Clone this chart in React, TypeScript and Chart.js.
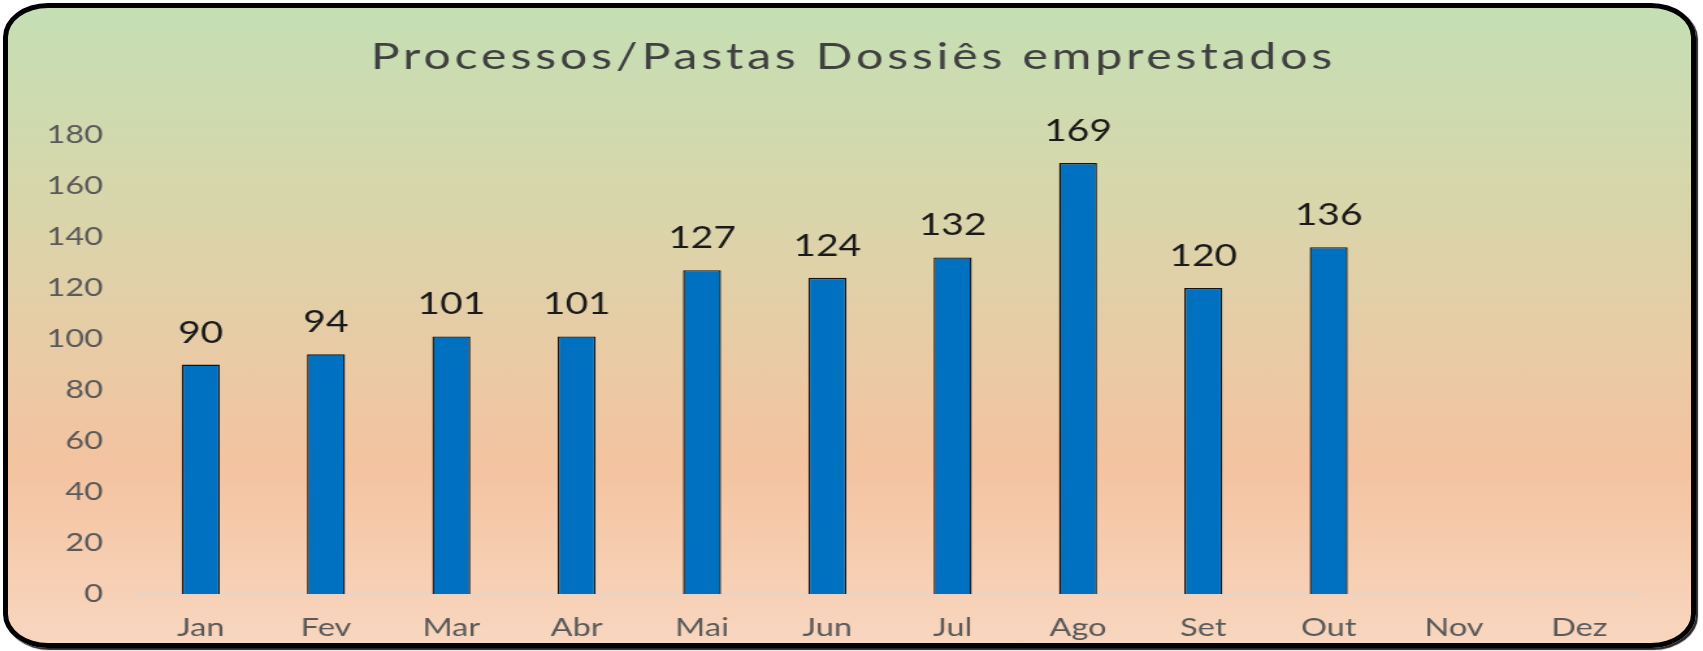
import React, { useEffect, useRef } from "react";
import { Chart, registerables } from "chart.js";

Chart.register(...registerables);

const TITLE = "Processos/Pastas Dossiês emprestados";
const MONTHS = ["Jan", "Fev", "Mar", "Abr", "Mai", "Jun", "Jul", "Ago", "Set", "Out", "Nov", "Dez"];
const VALUES: (number | null)[] = [90, 94, 101, 101, 127, 124, 132, 169, 120, 136, null, null];
const Y_MIN = 0;
const Y_MAX = 180;
const Y_STEP = 20;

// Geometry (page pixels)
const W = 1703;
const H = 651;
const SX = 1.3; // horizontal stretch of the original picture
const IW = Math.round(W / SX);
const PLOT_LEFT = 138;
const PLOT_RIGHT = 1642;
const PLOT_TOP = 135;
const PLOT_BOTTOM = 594;
const FONT = "Lato, 'Open Sans', sans-serif";

const titlePlugin = {
  id: "drawTitle",
  afterDraw(chart: any) {
    const ctx = chart.ctx as CanvasRenderingContext2D;
    ctx.save();
    ctx.font = `37px ${FONT}`;
    ctx.fillStyle = "#404040";
    ctx.textAlign = "center";
    ctx.textBaseline = "alphabetic";
    try {
      (ctx as any).letterSpacing = "3px";
    } catch (e) {}
    ctx.fillText(TITLE, chart.width / 2 + 1.5, 69);
    ctx.restore();
  },
};

const valueLabelPlugin = {
  id: "valueLabels",
  afterDatasetsDraw(chart: any) {
    const ctx = chart.ctx as CanvasRenderingContext2D;
    const meta = chart.getDatasetMeta(0);
    ctx.save();
    ctx.font = `30px ${FONT}`;
    ctx.fillStyle = "#1a1a1a";
    ctx.textAlign = "center";
    ctx.textBaseline = "alphabetic";
    meta.data.forEach((el: any, i: number) => {
      const v = VALUES[i];
      if (v === null || v === undefined) return;
      ctx.fillText(String(v), el.x, el.y - 22);
    });
    ctx.restore();
  },
};

export default function App() {
  const canvasRef = useRef<HTMLCanvasElement | null>(null);

  useEffect(() => {
    const canvas = canvasRef.current;
    if (!canvas) return;
    canvas.width = IW;
    canvas.height = H;
    const catWidth = (PLOT_RIGHT - PLOT_LEFT) / MONTHS.length;
    const chart = new Chart(canvas, {
      type: "bar",
      data: {
        labels: MONTHS,
        datasets: [
          {
            data: VALUES,
            backgroundColor: "#0070C0",
            borderColor: "#141414",
            borderWidth: 1.4,
            barPercentage: 38 / catWidth,
            categoryPercentage: 1,
          },
        ],
      },
      options: {
        responsive: false,
        animation: false,
        devicePixelRatio: 1,
        layout: {
          padding: {
            left: 0,
            right: IW - PLOT_RIGHT / SX,
            top: PLOT_TOP,
            bottom: 0,
          },
        },
        plugins: {
          legend: { display: false },
          title: { display: false },
          tooltip: { enabled: false },
        },
        scales: {
          x: {
            grid: { display: false, drawTicks: false },
            border: { display: true, color: "#d3d8dc", width: 1.5 },
            ticks: {
              color: "#595959",
              font: { family: FONT, size: 25 },
              padding: 19,
              maxRotation: 0,
              autoSkip: false,
            },
            afterFit(scale: any) {
              scale.height = H - PLOT_BOTTOM;
            },
          },
          y: {
            min: Y_MIN,
            max: Y_MAX,
            grid: { display: false, drawTicks: false },
            border: { display: false },
            ticks: {
              stepSize: Y_STEP,
              color: "#595959",
              font: { family: FONT, size: 25 },
              padding: (PLOT_LEFT - 103) / SX,
            },
            afterFit(scale: any) {
              scale.width = PLOT_LEFT / SX;
            },
          },
        },
      },
      plugins: [titlePlugin, valueLabelPlugin],
    });
    return () => chart.destroy();
  }, []);

  return (
    <div
      style={{
        position: "fixed",
        left: 0,
        top: 0,
        width: W,
        height: H,
        overflow: "hidden",
        background: "#ffffff",
      }}
    >
      <div
        style={{
          position: "absolute",
          left: 3,
          top: 3,
          width: 1693,
          height: 645,
          boxSizing: "border-box",
          border: "5px solid #000",
          borderRadius: "45px / 34px",
          boxShadow: "2px 2px 1px rgba(0,0,0,0.85)",
          background:
            "linear-gradient(to bottom, #c5dfb4 0%, #d8d6ab 30%, #f4c3a0 72%, #f8d6bf 100%)",
        }}
      />
      <canvas
        ref={canvasRef}
        width={IW}
        height={H}
        style={{
          position: "absolute",
          left: 0,
          top: 0,
          width: W + "px",
          height: H + "px",
        }}
      />
    </div>
  );
}
